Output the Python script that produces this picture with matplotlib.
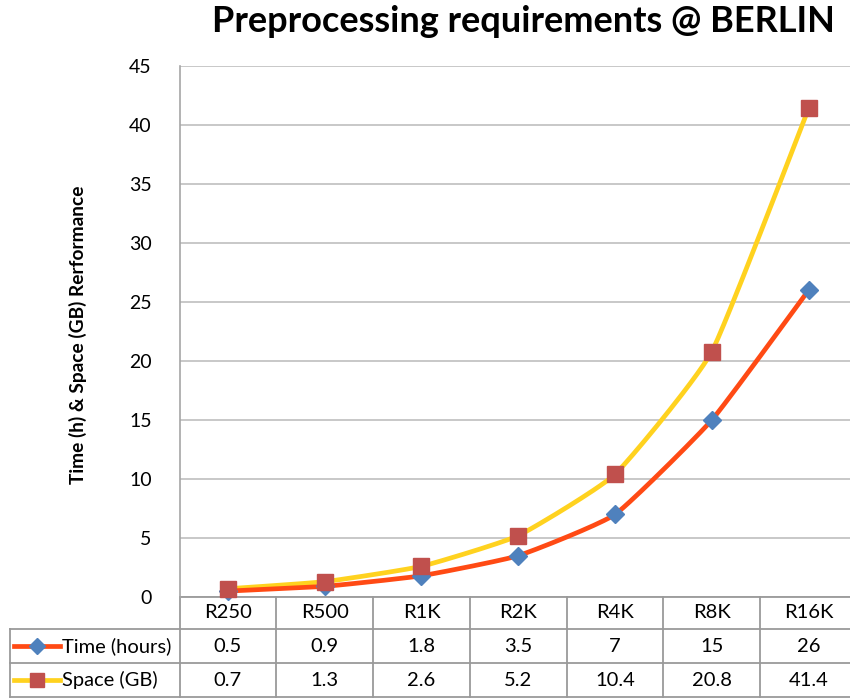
import numpy as np
import matplotlib
matplotlib.use("Agg")
import matplotlib.pyplot as plt
from matplotlib import transforms
from matplotlib.lines import Line2D

categories = ['R250', 'R500', 'R1K', 'R2K', 'R4K', 'R8K', 'R16K']
time_hours = [0.5, 0.9, 1.8, 3.5, 7, 15, 26]
space_gb = [0.7, 1.3, 2.6, 5.2, 10.4, 20.8, 41.4]
series_names = ['Time (hours)', 'Space (GB)']
yticks = [0, 5, 10, 15, 20, 25, 30, 35, 40, 45]

FONT = 'Lato'
W, H = 850, 698
fig = plt.figure(figsize=(W / 100, H / 100), dpi=100)

def fx(x):
    return x / W

def fy(y):
    return 1 - y / H

ax_left, ax_right, ax_top, ax_bot = 179.5, 857, 66, 597
ax = fig.add_axes([fx(ax_left), fy(ax_bot), fx(ax_right - ax_left), (ax_bot - ax_top) / H])
ax.set_xlim(-0.5, len(categories) - 0.5)
ax.set_ylim(0, 45)
ax.set_yticks(yticks)
ax.set_yticklabels([str(t) for t in yticks], fontsize=14, family=FONT)
ax.tick_params(axis='y', length=0, pad=20)
ax.set_xticks([])
for s in ['top', 'right', 'bottom']:
    ax.spines[s].set_visible(False)
ax.spines['left'].set_color('#a6a6a6')
ax.spines['left'].set_linewidth(1.2)
ax.grid(axis='y', color='#bfbfbf', linewidth=1.2)
ax.set_axisbelow(True)

def smooth(xs, ys, k=1 / 14, n=30):
    pts = np.column_stack([xs, ys]).astype(float)
    P = np.vstack([pts[0], pts, pts[-1]])
    out = []
    for i in range(1, len(P) - 2):
        p0, p1, p2, p3 = P[i - 1], P[i], P[i + 1], P[i + 2]
        c1 = p1 + (p2 - p0) * k
        c2 = p2 - (p3 - p1) * k
        t = np.linspace(0, 1, n)[:, None]
        seg = (1 - t) ** 3 * p1 + 3 * (1 - t) ** 2 * t * c1 + 3 * (1 - t) * t ** 2 * c2 + t ** 3 * p2
        out.append(seg if i == 1 else seg[1:])
    out = np.vstack(out)
    return out[:, 0], out[:, 1]

x = np.arange(len(categories))
time_color, space_color = '#FF4A14', '#FFD21F'
time_mk, space_mk = '#4F81BD', '#C0504D'

sx, sy = smooth(x, space_gb)
ax.plot(sx, sy, color=space_color, lw=3.4, zorder=3, solid_capstyle='round')
tx, ty = smooth(x, time_hours)
ax.plot(tx, ty, color=time_color, lw=3.4, zorder=3, solid_capstyle='round')
ax.plot(x, time_hours, ls='none', marker='D', ms=9.5, color=time_mk, mec=time_mk, zorder=4, clip_on=False)
ax.plot(x, space_gb, ls='none', marker='s', ms=12, color=space_mk, mec=space_mk, zorder=5, clip_on=False)

# Title and y label
fig.text(fx(523), fy(21), 'Preprocessing requirements @ BERLIN', ha='center', va='center',
         fontsize=26, fontweight='bold', family=FONT)
fig.text(fx(78), fy(335), 'Time (h) & Space (GB) Rerformance', ha='center', va='center',
         rotation=90, fontsize=13.8, fontweight='bold', family=FONT)

# Data table
tr = transforms.blended_transform_factory(ax.transData, fig.transFigure)
lc = '#9a9a9a'
rows_y = [597, 629, 663, 697]
ax.plot([-0.5, len(categories) - 0.5], [fy(597)] * 2, color=lc, lw=1.3, transform=tr, clip_on=False)
for yy in rows_y[1:]:
    fig.add_artist(Line2D([fx(10), fx(ax_right)], [fy(yy), fy(yy)], color=lc, lw=1.3))
for b in np.arange(len(categories) + 1) - 0.5:
    ax.plot([b, b], [fy(597), fy(697)], color=lc, lw=1.3, transform=tr, clip_on=False)
fig.add_artist(Line2D([fx(10), fx(10)], [fy(629), fy(697)], color=lc, lw=1.3))

row_centers = [(rows_y[i] + rows_y[i + 1]) / 2 for i in range(3)]
for i, c in enumerate(categories):
    ax.text(i, fy(row_centers[0]), c, ha='center', va='center', fontsize=14.5, family=FONT,
            transform=tr)
    ax.text(i, fy(row_centers[1]), f'{time_hours[i]:g}', ha='center', va='center', fontsize=14.5,
            family=FONT, transform=tr)
    ax.text(i, fy(row_centers[2]), f'{space_gb[i]:g}', ha='center', va='center', fontsize=14.5,
            family=FONT, transform=tr)

keys = [(time_color, time_mk, 'D', 8), (space_color, space_mk, 's', 10)]
for (lcol, mcol, mk, ms), name, yc in zip(keys, series_names, row_centers[1:]):
    fig.add_artist(Line2D([fx(14), fx(60)], [fy(yc), fy(yc)], color=lcol, lw=3.4))
    fig.add_artist(Line2D([fx(37)], [fy(yc)], marker=mk, ms=ms, color=mcol, mec=mcol, ls='none'))
    fig.text(fx(62), fy(yc), name, ha='left', va='center', fontsize=14.5, family=FONT)

fig.savefig('out.png', dpi=100)
